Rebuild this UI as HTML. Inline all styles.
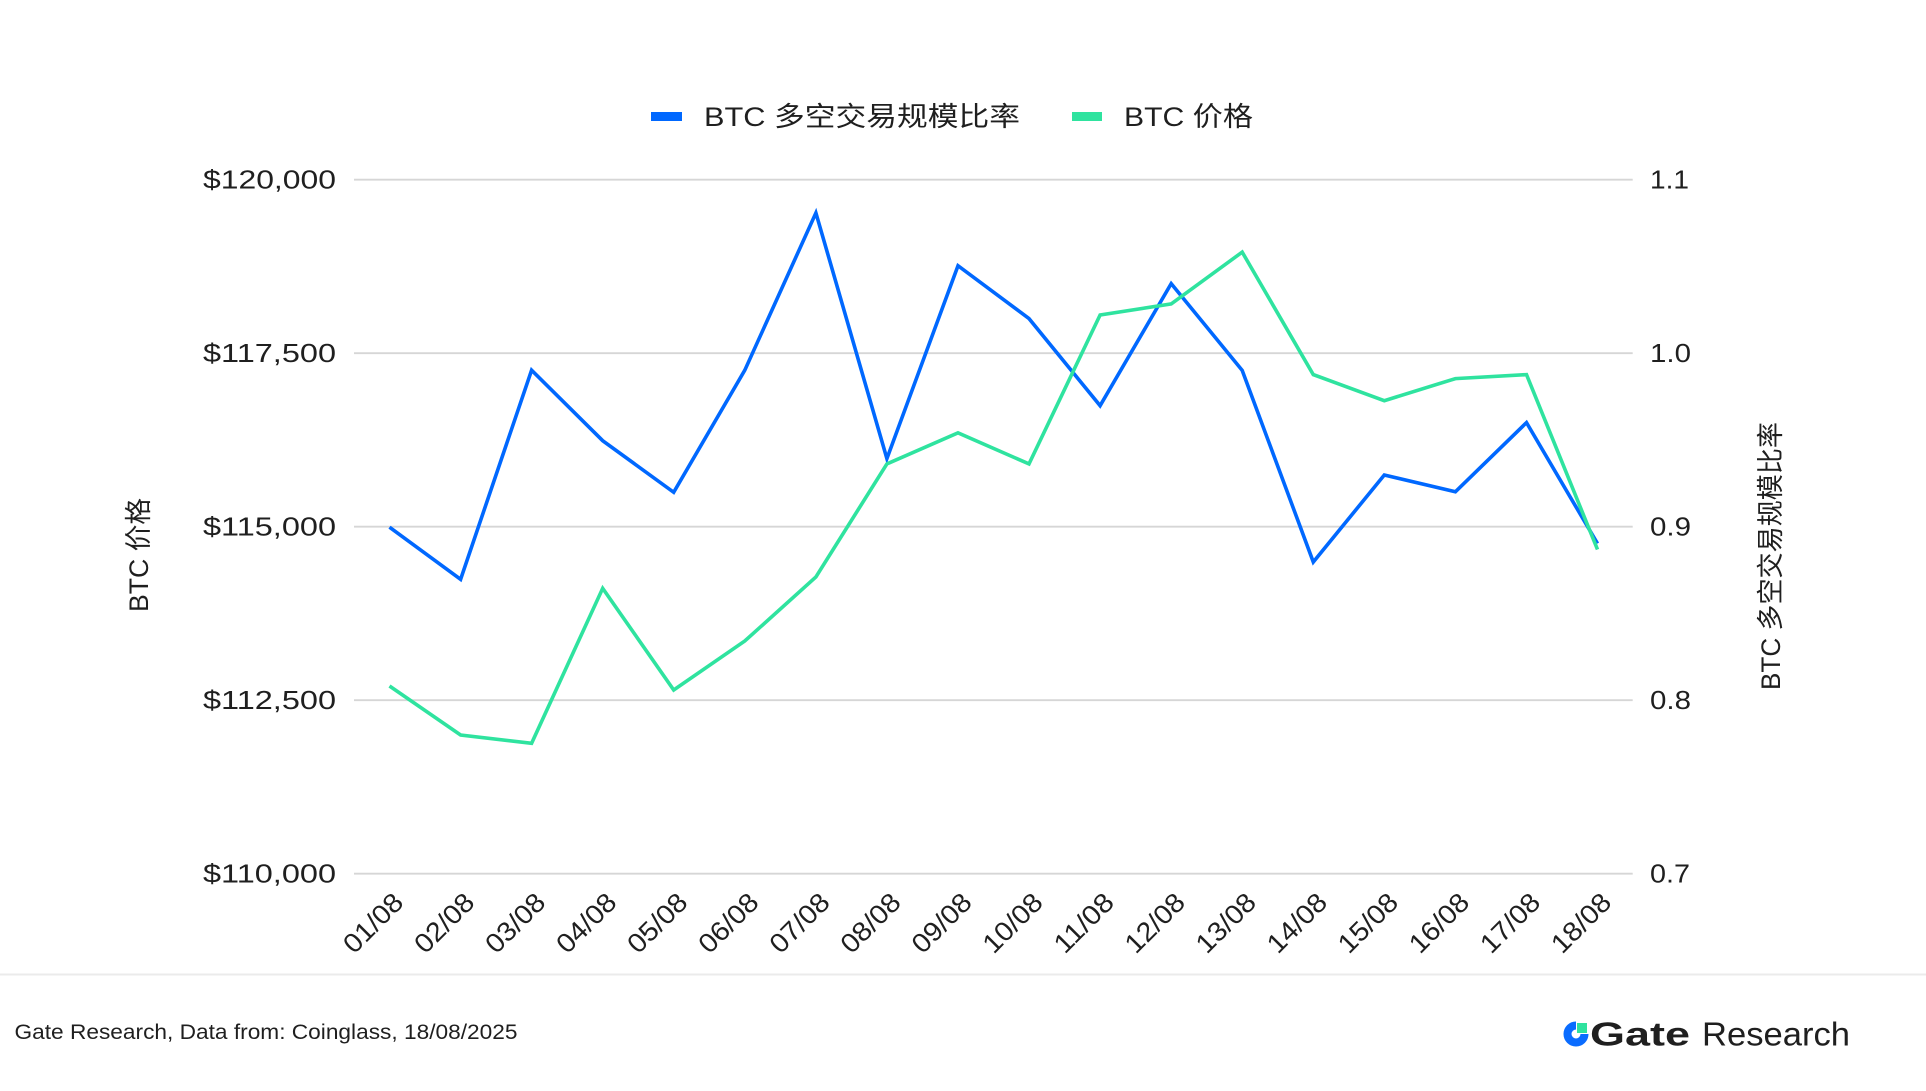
<!DOCTYPE html>
<html>
<head>
<meta charset="utf-8">
<style>
  html, body { margin: 0; padding: 0; background: #ffffff; }
  body { width: 1926px; height: 1091px; overflow: hidden; }
  svg { display: block; }
  text { font-family: "Liberation Sans", "Noto Sans CJK SC", sans-serif; fill: #1f1f1f; }
</style>
</head>
<body>
<svg width="1926" height="1091" viewBox="0 0 1926 1091" xmlns="http://www.w3.org/2000/svg">
  <rect x="0" y="0" width="1926" height="1091" fill="#ffffff"/>

  <!-- Legend -->
  <rect x="651" y="112" width="31" height="9" fill="#0068FF"/>
  <text x="704" y="126" font-size="27" textLength="316" lengthAdjust="spacingAndGlyphs">BTC 多空交易规模比率</text>
  <rect x="1072" y="112" width="30" height="9" fill="#2FE39F"/>
  <text x="1124" y="126" font-size="27" textLength="129" lengthAdjust="spacingAndGlyphs">BTC 价格</text>

  <!-- Gridlines -->
  <g stroke="#d6d6d6" stroke-width="1.8">
    <line x1="354" y1="179.7" x2="1632.7" y2="179.7"/>
    <line x1="354" y1="353.2" x2="1632.7" y2="353.2"/>
    <line x1="354" y1="526.7" x2="1632.7" y2="526.7"/>
    <line x1="354" y1="700.2" x2="1632.7" y2="700.2"/>
    <line x1="354" y1="873.7" x2="1632.7" y2="873.7"/>
  </g>

  <!-- Left tick labels -->
  <g font-size="26" text-anchor="end">
    <text x="336" y="188.7" textLength="133" lengthAdjust="spacingAndGlyphs">$120,000</text>
    <text x="336" y="362.2" textLength="133" lengthAdjust="spacingAndGlyphs">$117,500</text>
    <text x="336" y="535.7" textLength="133" lengthAdjust="spacingAndGlyphs">$115,000</text>
    <text x="336" y="709.2" textLength="133" lengthAdjust="spacingAndGlyphs">$112,500</text>
    <text x="336" y="882.7" textLength="133" lengthAdjust="spacingAndGlyphs">$110,000</text>
  </g>

  <!-- Right tick labels -->
  <g font-size="26">
    <text x="1650" y="188.7" textLength="39" lengthAdjust="spacingAndGlyphs">1.1</text>
    <text x="1650" y="362.2" textLength="41" lengthAdjust="spacingAndGlyphs">1.0</text>
    <text x="1650" y="535.7" textLength="41" lengthAdjust="spacingAndGlyphs">0.9</text>
    <text x="1650" y="709.2" textLength="41" lengthAdjust="spacingAndGlyphs">0.8</text>
    <text x="1650" y="882.7" textLength="40" lengthAdjust="spacingAndGlyphs">0.7</text>
  </g>

  <!-- Axis titles -->
  <text transform="translate(148,555) rotate(-90)" font-size="27" text-anchor="middle" textLength="114" lengthAdjust="spacingAndGlyphs">BTC 价格</text>
  <text transform="translate(1780,556) rotate(-90)" font-size="27" text-anchor="middle" textLength="268" lengthAdjust="spacingAndGlyphs">BTC 多空交易规模比率</text>

  <!-- X labels -->
  <g font-size="27" text-anchor="end">
    <text transform="translate(405,904) rotate(-45)" textLength="72" lengthAdjust="spacingAndGlyphs">01/08</text>
    <text transform="translate(476.1,904) rotate(-45)" textLength="72" lengthAdjust="spacingAndGlyphs">02/08</text>
    <text transform="translate(547.1,904) rotate(-45)" textLength="72" lengthAdjust="spacingAndGlyphs">03/08</text>
    <text transform="translate(618.2,904) rotate(-45)" textLength="72" lengthAdjust="spacingAndGlyphs">04/08</text>
    <text transform="translate(689.2,904) rotate(-45)" textLength="72" lengthAdjust="spacingAndGlyphs">05/08</text>
    <text transform="translate(760.3,904) rotate(-45)" textLength="72" lengthAdjust="spacingAndGlyphs">06/08</text>
    <text transform="translate(831.4,904) rotate(-45)" textLength="72" lengthAdjust="spacingAndGlyphs">07/08</text>
    <text transform="translate(902.4,904) rotate(-45)" textLength="72" lengthAdjust="spacingAndGlyphs">08/08</text>
    <text transform="translate(973.5,904) rotate(-45)" textLength="72" lengthAdjust="spacingAndGlyphs">09/08</text>
    <text transform="translate(1044.5,904) rotate(-45)" textLength="72" lengthAdjust="spacingAndGlyphs">10/08</text>
    <text transform="translate(1115.6,904) rotate(-45)" textLength="72" lengthAdjust="spacingAndGlyphs">11/08</text>
    <text transform="translate(1186.7,904) rotate(-45)" textLength="72" lengthAdjust="spacingAndGlyphs">12/08</text>
    <text transform="translate(1257.7,904) rotate(-45)" textLength="72" lengthAdjust="spacingAndGlyphs">13/08</text>
    <text transform="translate(1328.8,904) rotate(-45)" textLength="72" lengthAdjust="spacingAndGlyphs">14/08</text>
    <text transform="translate(1399.8,904) rotate(-45)" textLength="72" lengthAdjust="spacingAndGlyphs">15/08</text>
    <text transform="translate(1470.9,904) rotate(-45)" textLength="72" lengthAdjust="spacingAndGlyphs">16/08</text>
    <text transform="translate(1542,904) rotate(-45)" textLength="72" lengthAdjust="spacingAndGlyphs">17/08</text>
    <text transform="translate(1613,904) rotate(-45)" textLength="72" lengthAdjust="spacingAndGlyphs">18/08</text>
  </g>

  <!-- Series: BTC long/short ratio (blue) -->
  <polyline fill="none" stroke="#0068FF" stroke-width="3.6" stroke-linejoin="miter" stroke-miterlimit="6"
    points="389.5,527.2 460.6,579.3 531.6,370.2 602.7,440.7 673.7,492.3 744.8,370.2 815.9,212.9 886.9,458.6 958.0,265.7 1029.0,318.6 1100.1,405.7 1171.2,283.6 1242.2,370.4 1313.3,562 1384.3,475 1455.4,491.8 1526.5,422.6 1597.5,543.5"/>

  <!-- Series: BTC price (green) -->
  <polyline fill="none" stroke="#2FE39F" stroke-width="3.6" stroke-linejoin="miter" stroke-miterlimit="6"
    points="389.5,686 460.6,735 531.6,743.3 602.7,588.3 673.7,690 744.8,641 815.9,577 886.9,463.9 958.0,432.9 1029.0,463.9 1100.1,315 1171.2,303.9 1242.2,252.1 1313.3,374.6 1384.3,400.7 1455.4,378.6 1526.5,374.6 1597.5,549.5"/>

  <!-- Footer separator -->
  <line x1="0" y1="974.5" x2="1926" y2="974.5" stroke="#ebebeb" stroke-width="2"/>

  <!-- Footer source text -->
  <text x="14.5" y="1039" font-size="21" textLength="503" lengthAdjust="spacingAndGlyphs" fill="#1a1a1a">Gate Research, Data from: Coinglass, 18/08/2025</text>

  <!-- Logo -->
  <path d="M1576 1025.5 A8.5 8.5 0 1 0 1584.5 1034" fill="none" stroke="#0A6CFF" stroke-width="8"/>
  <rect x="1577" y="1023" width="10" height="10" fill="#2FE39F"/>
  <text x="1590" y="1045.5" font-size="33" font-weight="bold" textLength="100" lengthAdjust="spacingAndGlyphs" fill="#16161e">Gate</text>
  <text x="1702" y="1045.5" font-size="33" textLength="148" lengthAdjust="spacingAndGlyphs" fill="#16161e">Research</text>
</svg>
</body>
</html>
